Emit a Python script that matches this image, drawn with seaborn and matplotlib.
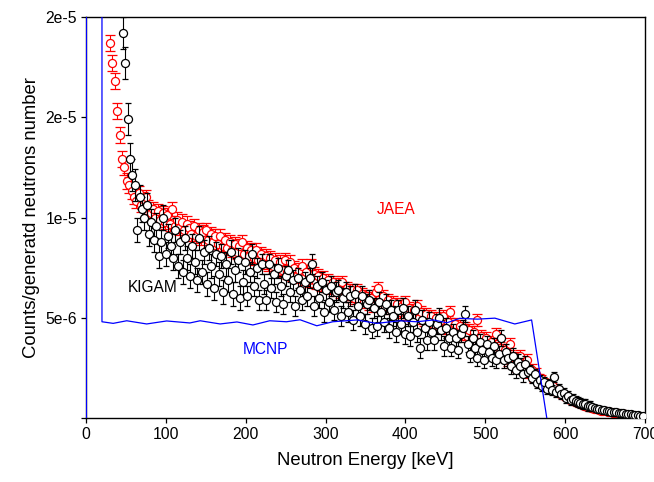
import numpy as np
import pandas as pd
import matplotlib
matplotlib.use("Agg")
import matplotlib.pyplot as plt
import seaborn as sns

# --- datos (valores en unidades de 1e-6) ---
# KIGAM: bins de 3 keV desde 46 keV
kigam_e = np.arange(46, 698, 3)
kigam_v = [
    19.2, 17.7, 14.9, 12.9, 12.1, 11.6, 9.4, 11.0, 10.4, 10.0,   # 46
    10.6, 9.2, 9.8, 8.9, 9.6, 8.1, 8.8, 10.0, 8.2, 9.1,          # 76
    8.6, 8.0, 9.4, 7.6, 8.8, 7.3, 9.0, 8.0, 7.1, 8.6,            # 106
    7.8, 6.9, 9.0, 7.3, 8.3, 6.7, 8.5, 7.6, 6.5, 8.2,            # 136
    7.2, 8.1, 6.3, 7.7, 6.9, 8.3, 6.2, 7.4, 7.9, 6.0,            # 166
    6.8, 7.8, 6.1, 7.3, 8.2, 6.6, 7.5, 5.9, 7.7, 6.7,            # 196
    5.9, 7.7, 6.5, 7.2, 5.8, 7.5, 6.6, 5.7, 7.1, 7.4,            # 226
    6.3, 6.9, 5.6, 7.0, 6.4, 5.9, 6.8, 6.1, 7.0, 7.7,            # 256
    5.6, 6.6, 6.0, 6.8, 5.3, 6.4, 5.8, 6.6, 5.4, 6.3,            # 286
    6.4, 5.1, 6.0, 6.3, 5.3, 6.1, 4.9, 6.2, 5.6, 5.1,            # 316
    6.1, 4.7, 5.7, 5.9, 4.5, 5.5, 4.6, 5.8, 5.3, 4.8,            # 346
    5.7, 4.5, 5.4, 5.1, 4.3, 5.4, 4.7, 5.5, 4.2, 5.1,            # 376
    4.1, 4.8, 5.4, 4.3, 3.5, 4.9, 4.5, 3.9, 4.8, 4.3,            # 406
    3.9, 4.7, 5.0, 4.4, 3.6, 4.5, 4.0, 3.5, 4.3, 4.0,            # 436
    3.4, 4.2, 4.5, 5.2, 3.7, 3.2, 4.0, 3.5, 3.0, 3.8,            # 466
    3.4, 2.9, 3.7, 3.3, 3.0, 3.6, 2.9, 3.2, 4.0, 2.9,            # 496
    3.3, 3.0, 2.6, 3.1, 2.4, 2.8, 2.6, 2.2, 2.7, 2.3,            # 526
    2.4, 2.0, 2.2, 1.75, 1.9, 1.6, 1.8, 1.45, 1.7, 1.4,          # 556
    2.05, 1.3, 1.45, 1.2, 1.25, 1.0, 1.1, 0.9, 0.95, 0.85,       # 586
    0.8, 0.75, 0.7, 0.68, 0.62, 0.6, 0.55, 0.5, 0.47, 0.45,      # 616
    0.42, 0.4, 0.36, 0.35, 0.32, 0.3, 0.3, 0.27, 0.25, 0.24,     # 646
    0.22, 0.2, 0.19, 0.17, 0.15, 0.13, 0.11, 0.08,               # 676
]
kigam_err = [0.8] * 6 + [0.6] * 46 + [0.5] * 84 + [0.4] * 33 + [0.25] * 27 + [0.12] * 22

# JAEA: bins de 3 keV desde 30 keV
jaea_e = np.arange(30, 691, 3)
jaea_v = [
    18.7, 17.7, 16.8, 15.3, 14.1, 12.9, 12.5, 11.8, 11.6, 11.3,  # 30
    11.0, 10.8, 11.2, 10.6, 10.9, 11.0, 10.5, 10.2, 10.4, 10.0,  # 60
    10.3, 9.9, 10.2, 9.8, 10.1, 9.7, 10.4, 9.6, 9.9, 9.5,        # 90
    9.8, 9.4, 9.7, 9.5, 9.2, 9.6, 9.1, 9.4, 9.0, 9.3,            # 120
    9.4, 8.9, 9.2, 8.8, 9.1, 8.7, 9.1, 8.6, 8.9, 8.5,            # 150
    8.8, 8.4, 8.7, 8.3, 8.6, 8.8, 8.2, 8.5, 8.1, 8.4,            # 180
    8.0, 8.4, 7.9, 8.2, 7.8, 8.1, 7.7, 8.0, 7.6, 7.9,            # 210
    7.5, 7.8, 7.4, 7.9, 7.3, 7.8, 7.2, 7.5, 7.1, 7.4,            # 240
    7.6, 7.0, 7.3, 6.9, 7.6, 7.2, 6.8, 7.1, 6.7, 7.0,            # 270
    6.6, 6.9, 6.5, 6.8, 6.4, 6.7, 6.3, 6.8, 6.2, 6.5,            # 300
    6.1, 6.4, 6.0, 6.4, 5.9, 6.2, 5.8, 6.1, 5.7, 6.0,            # 330
    5.6, 6.3, 6.5, 5.8, 6.1, 5.6, 5.9, 5.5, 5.8, 5.4,            # 360
    5.7, 5.3, 5.6, 5.8, 5.2, 5.5, 5.1, 5.4, 5.6, 5.0,            # 390
    5.3, 4.9, 5.2, 4.8, 5.1, 4.7, 5.0, 4.6, 4.9, 5.1,            # 420
    4.5, 4.8, 5.3, 4.4, 4.7, 4.3, 4.6, 4.2, 4.5, 4.1,            # 450
    4.4, 4.0, 4.3, 4.9, 3.9, 4.1, 3.7, 4.0, 3.6, 3.8,            # 480
    3.4, 4.2, 3.3, 3.5, 3.1, 3.4, 2.9, 3.7, 2.8, 3.0,            # 510
    2.6, 3.1, 2.5, 2.7, 2.9, 2.3, 2.4, 2.1, 2.2, 1.9,            # 540
    2.0, 1.7, 1.8, 1.6, 1.5, 1.6, 1.3, 1.4, 1.2, 1.15,           # 570
    1.05, 1.0, 0.9, 0.85, 0.8, 0.75, 0.7, 0.65, 0.6, 0.57,       # 600
    0.53, 0.5, 0.46, 0.43, 0.4, 0.37, 0.35, 0.33, 0.3, 0.28,     # 630
    0.26, 0.25, 0.23, 0.21, 0.2, 0.18, 0.16, 0.15, 0.13, 0.12,   # 660
    0.1,                                                         # 690
]
jaea_err = [0.4] * 10 + [0.35] * 80 + [0.3] * 90 + [0.12] * 41

# MCNP: linea de la simulacion
mcnp_e = [0.5, 0.5, 20, 20, 34, 51, 76, 101, 130, 143, 168, 189, 209, 230, 251,
          268, 289, 309, 339, 364, 393, 414, 435, 452, 468, 490, 512, 537, 558, 577]
mcnp_v = [0, 40, 40, 4.80, 4.72, 4.85, 4.69, 4.84, 4.74, 4.85, 4.69, 4.79, 4.64, 4.85, 4.80,
          4.90, 4.60, 4.80, 4.89, 4.72, 4.85, 4.80, 4.89, 4.75, 4.97, 4.93, 4.98, 4.69, 4.89, 0]

y_ticks = [0, 5e-6, 1e-5, 1.5e-5, 2e-5]
y_tick_labels = ['', '5e-6', '1e-5', '2e-5', '2e-5']
x_ticks = [0, 100, 200, 300, 400, 500, 600, 700]

escala = 1e-6
kigam = pd.DataFrame({'E': kigam_e, 'v': np.array(kigam_v) * escala, 'err': np.array(kigam_err) * escala})
jaea = pd.DataFrame({'E': jaea_e, 'v': np.array(jaea_v) * escala, 'err': np.array(jaea_err) * escala})
mcnp = pd.DataFrame({'E': mcnp_e, 'v': np.array(mcnp_v) * escala})

# --- estilo ---
sns.set_theme(style="ticks")
plt.rcParams['font.family'] = ['Liberation Sans', 'DejaVu Sans']

fig = plt.figure(figsize=(6.54, 4.82), dpi=100)
ax = fig.add_axes([86 / 654, 1 - 418 / 482, 559 / 654, 401 / 482])


def puntos(df, color, cap, z0):
    # cada punto con su barra, para que se solapen como en el original
    for i, fila in enumerate(df.itertuples()):
        ax.errorbar(fila.E, fila.v, yerr=fila.err, fmt='o', ms=5.8, mfc='white', mec=color,
                    mew=0.9, ecolor=color, elinewidth=0.8, capsize=cap, capthick=0.8,
                    zorder=z0 + i * 1e-4)


# JAEA (rojo) debajo, KIGAM (negro) encima
puntos(jaea, 'red', 3.5, 2)
puntos(kigam, 'black', 2.5, 3)
sns.lineplot(data=mcnp, x='E', y='v', sort=False, estimator=None, color='blue',
             lw=0.9, ax=ax, zorder=4)

ax.set_xlim(0, 700)
ax.set_ylim(0, 2e-5)
ax.set_xticks(x_ticks)
ax.set_yticks(y_ticks)
ax.set_yticklabels(y_tick_labels)

for lado in ['top', 'right', 'bottom', 'left']:
    ax.spines[lado].set_visible(True)
    ax.spines[lado].set_color('black')
    ax.spines[lado].set_linewidth(1.0)
ax.tick_params(axis='both', direction='out', length=3.5, width=0.9, colors='black',
               labelsize=11.3, pad=3, top=False, right=False)

ax.set_xlabel('Neutron Energy [keV]', fontsize=13.3, color='black')
ax.set_ylabel('Counts/generatd neutrons number', fontsize=13.3, color='black')
ax.xaxis.set_label_coords(0.5, -0.085)
ax.yaxis.set_label_coords(-0.082, 0.5)

ax.text(389, 1.0375e-5, 'JAEA', color='red', fontsize=11.2, ha='center', va='center')
ax.text(84, 6.5e-6, 'KIGAM', color='black', fontsize=11.2, ha='center', va='center')
ax.text(225, 3.4e-6, 'MCNP', color='blue', fontsize=11.2, ha='center', va='center')

plt.savefig('out.png', dpi=100)
